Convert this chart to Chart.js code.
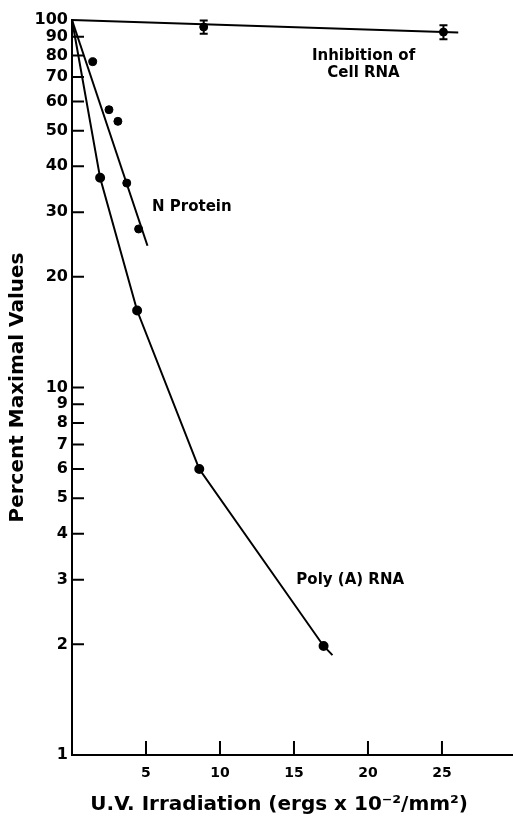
<!DOCTYPE html>
<html>
<head>
<meta charset="utf-8">
<script src="https://cdn.jsdelivr.net/npm/chart.js@4.4.1/dist/chart.umd.min.js"></script>
<style>
    html, body { margin: 0; padding: 0; background: #fff; }
    #uvChart { display: block; }
</style>
</head>
<body>
<canvas id="uvChart" width="513" height="822"></canvas>
<script>
// tick values
const xTicks = [5, 10, 15, 20, 25];
const yTicks = [1, 2, 3, 4, 5, 6, 7, 8, 9, 10, 20, 30, 40, 50, 60, 70, 80, 90, 100];

// Poly (A) RNA - line through the measured points
const polyX = [0, 1.9, 4.4, 8.6, 17.0, 17.6];
const polyY = [100, 37.2, 16.2, 6.0, 1.98, 1.87];

// N Protein - measured points and fitted line
const protX = [1.4, 2.5, 3.1, 3.7, 4.5];
const protY = [77, 57, 53, 36, 27];
const protFitX = [0, 5.1];
const protFitY = [100, 24.3];

// Inhibition of cell RNA - points with error bars, fitted line
const cellX = [8.9, 25.1];
const cellY = [95.7, 92.7];
const cellErr = [4, 4];
const cellFitX = [0, 26.1];
const cellFitY = [100, 92.5];

const xTitle = 'U.V. Irradiation (ergs x 10\u207B\u00B2/mm\u00B2)';
const curveLabels = [
    { lines: ["Inhibition of", "Cell RNA"], x: 19.7, y: 80 },
    { lines: ["N Protein"], x: 8.1, y: 31 },
    { lines: ["Poly (A) RNA"], x: 18.8, y: 3.0 }
];

function toPoints(xs, ys) {
    return xs.map((x, i) => ({ x: x, y: ys[i] }));
}

const FONT = "'DejaVu Sans', sans-serif";

// inward tick marks, error bars, curve labels and x title
const extrasPlugin = {
    id: 'extras',
    afterDatasetsDraw(chart) {
        const c = chart.ctx;
        const xs = chart.scales.x;
        const ys = chart.scales.y;
        const area = chart.chartArea;
        c.save();
        c.strokeStyle = '#000';
        c.lineWidth = 2;
        c.beginPath();
        yTicks.forEach(v => {
            if (v === 1 || v === 100) return;
            const py = ys.getPixelForValue(v);
            c.moveTo(area.left, py);
            c.lineTo(area.left + 12, py);
        });
        xTicks.forEach(v => {
            const px = xs.getPixelForValue(v);
            c.moveTo(px, area.bottom);
            c.lineTo(px, area.bottom - 14);
        });
        c.stroke();

        // error bars
        cellX.forEach((x, i) => {
            const px = xs.getPixelForValue(x);
            const top = ys.getPixelForValue(cellY[i] + cellErr[i]);
            const bot = ys.getPixelForValue(cellY[i] - cellErr[i]);
            c.beginPath();
            c.moveTo(px, top);
            c.lineTo(px, bot);
            c.moveTo(px - 4, top);
            c.lineTo(px + 4, top);
            c.moveTo(px - 4, bot);
            c.lineTo(px + 4, bot);
            c.stroke();
        });

        // curve labels
        c.fillStyle = '#000';
        c.font = "bold 15px " + FONT;
        c.textAlign = 'center';
        c.textBaseline = 'middle';
        curveLabels.forEach(lbl => {
            const px = xs.getPixelForValue(lbl.x);
            const py = ys.getPixelForValue(lbl.y);
            lbl.lines.forEach((t, i) => {
                c.fillText(t, px, py + i * 17);
            });
        });

        // x axis title, sits a bit left of the axis centre in the original
        c.font = "bold 20px " + FONT;
        c.fillText(xTitle, xs.getPixelForValue(14), area.bottom + 50);
        c.restore();
    }
};

document.addEventListener("DOMContentLoaded", function () {
    const ctx = document.getElementById('uvChart');
    if (ctx) {
        const uvChart = new Chart(ctx, {
            type: 'scatter',
            data: {
                datasets: [{
                    label: 'Poly (A) RNA',
                    data: toPoints(polyX, polyY),
                    showLine: true,
                    borderColor: '#000',
                    backgroundColor: '#000',
                    borderWidth: 2,
                    pointRadius: polyX.map((x, i) => (i === 0 || i === polyX.length - 1) ? 0 : 4),
                    clip: false
                }, {
                    label: 'N Protein fit',
                    data: toPoints(protFitX, protFitY),
                    showLine: true,
                    borderColor: '#000',
                    borderWidth: 2,
                    pointRadius: 0,
                    clip: false
                }, {
                    label: 'N Protein',
                    data: toPoints(protX, protY),
                    showLine: false,
                    backgroundColor: '#000',
                    borderColor: '#000',
                    pointRadius: 4,
                    clip: false
                }, {
                    label: 'Cell RNA fit',
                    data: toPoints(cellFitX, cellFitY),
                    showLine: true,
                    borderColor: '#000',
                    borderWidth: 2,
                    pointRadius: 0,
                    clip: false
                }, {
                    label: 'Inhibition of Cell RNA',
                    data: toPoints(cellX, cellY),
                    showLine: false,
                    backgroundColor: '#000',
                    borderColor: '#000',
                    pointRadius: 4,
                    clip: false
                }]
            },
            options: {
                responsive: false,
                animation: false,
                layout: { autoPadding: false, padding: { top: 20, left: 0, right: 0, bottom: 0 } },
                plugins: {
                    legend: { display: false },
                    tooltip: { enabled: false }
                },
                scales: {
                    x: {
                        type: 'linear',
                        min: 0,
                        max: 29.8,
                        afterBuildTicks: scale => { scale.ticks = xTicks.map(v => ({ value: v })); },
                        afterFit: scale => {
                            scale.height = 67;
                            scale.paddingLeft = 0;
                            scale.paddingRight = 0;
                        },
                        grid: { display: false, drawTicks: false },
                        border: { display: true, color: '#000', width: 2 },
                        ticks: {
                            color: '#000',
                            padding: 10,
                            maxRotation: 0,
                            autoSkip: false,
                            font: { family: FONT, size: 14, weight: 'bold' }
                        }
                    },
                    y: {
                        type: 'logarithmic',
                        min: 1,
                        max: 100,
                        afterBuildTicks: scale => { scale.ticks = yTicks.map(v => ({ value: v })); },
                        afterFit: scale => { scale.width = 72; },
                        grid: { display: false, drawTicks: false },
                        border: { display: true, color: '#000', width: 2 },
                        ticks: {
                            color: '#000',
                            padding: 4,
                            autoSkip: false,
                            callback: v => String(v),
                            font: { family: FONT, size: 16, weight: 'bold' }
                        },
                        title: {
                            display: true,
                            text: 'Percent Maximal Values',
                            color: '#000',
                            padding: { top: 6, bottom: 0 },
                            font: { family: FONT, size: 20, weight: 'bold' }
                        }
                    }
                }
            },
            plugins: [extrasPlugin]
        });
    }
});
</script>
</body>
</html>
